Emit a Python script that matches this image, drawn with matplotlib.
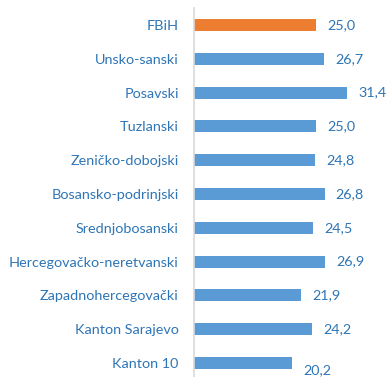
import matplotlib
matplotlib.use("Agg")
import matplotlib.pyplot as plt

# cantons, top to bottom
CANTONS = [
    "FBiH", "Unsko-sanski", "Posavski", "Tuzlanski", "Zeničko-dobojski",
    "Bosansko-podrinjski", "Srednjobosanski", "Hercegovačko-neretvanski",
    "Zapadnohercegovački", "Kanton Sarajevo", "Kanton 10",
]
VALUES = [25.0, 26.7, 31.4, 25.0, 24.8, 26.8, 24.5, 26.9, 21.9, 24.2, 20.2]

BLUE = "#5B9BD5"
ORANGE = "#ED7D31"
TEXT = "#2E75B6"

plt.rcParams["font.family"] = ["Lato", "DejaVu Sans"]

fig = plt.figure(figsize=(3.89, 3.77), dpi=100)
ax = fig.add_axes([194 / 389, 0.0, 195 / 389, 369 / 377])

ypos = list(range(len(CANTONS)))
colors = [ORANGE] + [BLUE] * (len(CANTONS) - 1)
bars = ax.barh(ypos, VALUES, height=0.35, color=colors)
ax.set_ylim(10.414, -0.503)
ax.set_xlim(0, 40)

ax.set_yticks(ypos)
ax.set_yticklabels(CANTONS, fontsize=10.4, color=TEXT)
ax.tick_params(axis="y", length=0, pad=11)
ax.set_xticks([])

for i, (b, v) in enumerate(zip(bars, VALUES)):
    # last label sits a little below its bar
    dy = -5 if i == len(VALUES) - 1 else 0
    ax.annotate(f"{v:.1f}".replace(".", ","),
                (b.get_width(), b.get_y() + b.get_height() / 2),
                xytext=(8, dy), textcoords="offset points",
                va="center", ha="left", fontsize=10.4, color=TEXT)

for side in ("top", "right", "bottom"):
    ax.spines[side].set_visible(False)
ax.spines["left"].set_color("#D9D9D9")
ax.spines["left"].set_linewidth(1.2)

fig.savefig("out.png", dpi=100)
